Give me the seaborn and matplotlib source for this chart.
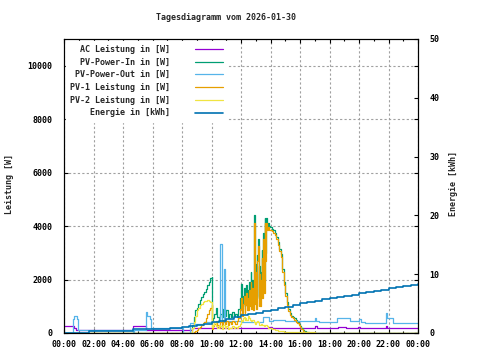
import matplotlib
matplotlib.use('Agg')
import matplotlib.pyplot as plt
import seaborn as sns

# hours of the day
ac_t = [0.0, 0.67, 0.8, 4.7, 5.55, 8.7, 10.4, 10.6, 12.0, 13.9, 14.1, 17.05, 17.15, 18.6, 19.1, 19.95, 20.05, 21.8, 21.9, 24.0]
ac_w = [250, 175, 110, 250, 110, 200, 240, 200, 190, 230, 180, 260, 175, 210, 175, 230, 175, 250, 175, 175]

out_t = [0.0, 0.6, 0.7, 0.85, 0.95, 4.7, 4.75, 5.55, 5.65, 5.8,
         5.9, 8.1, 8.55, 8.8, 9.5, 10.0, 10.3, 10.55, 10.7, 10.85,
         10.92, 11.0, 12.0, 13.5, 13.9, 14.2, 15.0, 16.0, 17.0, 17.1,
         17.3, 18.5, 19.4, 20.0, 20.15, 20.4, 21.8, 21.9, 22.3, 24.0]
out_w = [0, 520, 630, 520, 110, 0, 110, 780, 620, 520,
         175, 0, 370, 350, 400, 420, 400, 3330, 420, 2400,
         420, 450, 430, 600, 450, 470, 450, 440, 550, 450,
         400, 570, 450, 530, 420, 380, 740, 550, 380, 360]

pv_t = [0.0, 8.6, 8.7, 8.8, 8.9, 9.0, 9.1, 9.2, 9.3, 9.4,
        9.5, 9.6, 9.7, 9.8, 9.9, 10.0, 10.05, 10.1, 10.2, 10.3,
        10.4, 10.5, 10.6, 10.7, 10.8, 10.9, 11.0, 11.1, 11.2, 11.3,
        11.4, 11.5, 11.6, 11.7, 11.8, 11.9,
        12.0, 12.05, 12.1, 12.15, 12.2, 12.25, 12.3, 12.35, 12.4, 12.45,
        12.5, 12.55, 12.6, 12.65, 12.7, 12.75, 12.8, 12.85, 12.9, 12.95,
        13.0, 13.05, 13.1, 13.15, 13.2, 13.25, 13.3, 13.35, 13.4, 13.45,
        13.5, 13.55, 13.6, 13.65, 13.7, 13.75, 13.8, 13.85, 13.9, 13.95,
        14.0, 14.1, 14.2, 14.3, 14.4, 14.5, 14.6, 14.7, 14.8, 14.9,
        15.0, 15.1, 15.2, 15.3, 15.4, 15.5, 15.6, 15.7, 15.8, 15.9,
        16.0, 16.1, 16.2, 16.3, 16.4, 16.5, 16.6, 16.7, 17.0, 24.0]
pv_in = [0, 0, 300, 600, 850, 950, 1100, 1250, 1350, 1450,
         1550, 1650, 1800, 1900, 2050, 2100, 500, 550, 700, 950,
         600, 500, 700, 600, 900, 650, 850, 550, 700, 600,
         800, 650, 700, 600, 900, 1300,
         1850, 1100, 900, 1400, 1700, 1000, 1300, 1800, 1100, 1600,
         1100, 1900, 1300, 2300, 1200, 2000, 1100, 3500, 4400, 1500,
         2600, 1400, 2900, 3500, 1300, 2500, 1400, 2300, 3100, 1700,
         3750, 2000, 4300, 3000, 4300, 4000, 4050, 4100, 4000, 3950,
         3950, 3900, 3850, 3750, 3600, 3400, 3150, 2950, 2400, 1900,
         1500, 1150, 900, 740, 650, 600, 550, 480, 430, 350,
         280, 180, 110, 80, 50, 30, 10, 0, 0, 0]
pv1 = [0, 0, 0, 30, 80, 130, 180, 230, 300, 370,
       430, 550, 700, 850, 950, 1050, 150, 250, 350, 450,
       300, 200, 400, 300, 500, 350, 450, 300, 400, 350,
       450, 400, 350, 450, 550, 900,
       1300, 800, 650, 1100, 1400, 750, 1050, 1500, 850, 1300,
       850, 1600, 1000, 1900, 900, 1700, 850, 3200, 4100, 1100,
       2300, 900, 2700, 3250, 1000, 2200, 1000, 2000, 2800, 1300,
       3500, 1500, 4100, 2700, 4100, 3850, 3900, 3950, 3850, 3850,
       3850, 3800, 3750, 3650, 3500, 3300, 3050, 2850, 2300, 1800,
       1400, 1050, 820, 680, 600, 550, 500, 430, 380, 300,
       230, 140, 80, 50, 30, 15, 0, 0, 0, 0]
pv2 = [0, 0, 200, 400, 650, 850, 950, 1050, 1100, 1150,
       1180, 1200, 1220, 1200, 1160, 1100, 220, 300, 400, 250,
       200, 300, 250, 150, 300, 200, 250, 150, 200, 180,
       250, 200, 220, 200, 250, 350,
       500, 450, 450, 550, 600, 500, 550, 500, 500, 600,
       650, 550, 500, 450, 450, 500, 500, 450, 400, 350,
       350, 400, 450, 400, 350, 300, 300, 350, 350, 300,
       300, 250, 250, 300, 300, 250, 250, 200, 200, 200,
       200, 150, 150, 120, 100, 80, 70, 60, 60, 50,
       50, 50, 50, 50, 50, 50, 50, 50, 50, 50,
       50, 50, 50, 50, 50, 50, 50, 50, 0, 0]

en_t = [0.0, 1.7, 4.7, 7.2, 8.0, 8.5, 9.0, 9.5, 10.0, 10.5, 11.0, 11.5, 12.0, 12.5,
        13.0, 13.5, 14.0, 14.5, 15.0, 15.5, 16.0, 16.5, 17.0, 17.5, 18.0, 18.5, 19.0,
        19.5, 20.0, 20.5, 21.0, 21.5, 22.0, 22.5, 23.0, 23.5, 24.0]
en_kwh = [0.05, 0.3, 0.6, 0.9, 1.0, 1.15, 1.3, 1.55, 1.85, 2.1, 2.4, 2.7, 3.0, 3.2,
          3.45, 3.7, 3.9, 4.2, 4.45, 4.75, 5.1, 5.3, 5.5, 5.7, 5.9, 6.1, 6.3,
          6.5, 6.75, 6.95, 7.15, 7.35, 7.6, 7.8, 7.95, 8.15, 8.35]

labels = ['AC Leistung in [W]', 'PV-Power-In in [W]', 'PV-Power-Out in [W]',
          'PV-1 Leistung in [W]', 'PV-2 Leistung in [W]', 'Energie in [kWh]']
colors = ['#9400D3', '#009E73', '#56B4E9', '#E69F00', '#F0E442', '#0072B2']
hour_labels = ['00:00', '02:00', '04:00', '06:00', '08:00', '10:00', '12:00',
               '14:00', '16:00', '18:00', '20:00', '22:00', '00:00']

sns.set_style('ticks')
plt.rcParams['font.family'] = ['DejaVu Sans Mono']
plt.rcParams['font.size'] = 6
plt.rcParams['font.weight'] = 'bold'

fig = plt.figure(figsize=(4.8, 3.6), dpi=100)
ax = fig.add_axes([64 / 480, 1 - 333 / 360, 354 / 480, 294 / 360])
ax2 = ax.twinx()

series = [(ac_t, ac_w), (pv_t, pv_in), (out_t, out_w), (pv_t, pv1), (pv_t, pv2)]
for (t, v), c in zip(series, colors[:5]):
    sns.lineplot(x=t, y=v, ax=ax, color=c, lw=0.9, drawstyle='steps-post',
                 errorbar=None, legend=False)
sns.lineplot(x=en_t, y=en_kwh, ax=ax2, color=colors[5], lw=1.2,
             drawstyle='steps-post', errorbar=None, legend=False)

ax.set_xlim(0, 24)
ax.set_ylim(0, 11000)
ax2.set_ylim(0, 50)
ax.set_xticks(range(0, 25, 2))
ax.set_xticks(range(0, 25, 1), minor=True)
ax.set_xticklabels(hour_labels)
ax.set_yticks(range(0, 11000, 2000))
ax2.set_yticks(range(0, 51, 10))
ax.set_xlabel('')
ax.set_ylabel('')
ax2.set_ylabel('')

ax.grid(True, which='major', color='#a0a0a0', ls=(0, (2, 2)), lw=0.8)
ax.tick_params(which='major', direction='in', length=3, width=0.8, color='black',
               top=True, right=True, labelsize=6, labelcolor='black')
ax.tick_params(axis='x', which='minor', direction='in', length=1.5, width=0.8,
               color='black', top=True)
ax.tick_params(axis='y', pad=8.5)
ax.tick_params(axis='x', pad=5)
ax2.tick_params(direction='in', length=3, width=0.8, color='black', labelsize=6,
                labelcolor='black', pad=8)
for a in (ax, ax2):
    for s in a.spines.values():
        s.set_color('black')
        s.set_linewidth(0.8)

handles = ax.get_lines()[:5] + ax2.get_lines()[:1]
ax2.legend(handles, labels, loc='upper left',
           bbox_to_anchor=(1.5 / 354, 1 - 1.5 / 294), borderaxespad=0,
           markerfirst=False, frameon=True, fancybox=False, framealpha=1,
           edgecolor='white', fontsize=6, handlelength=3.4, handletextpad=3.0,
           labelspacing=0.45, borderpad=0.5)

fig.text(226.5 / 480, 1 - 18 / 360, 'Tagesdiagramm vom 2026-01-30',
         ha='center', va='center', fontsize=6)
fig.text(10 / 480, 0.5 - 4 / 360, 'Leistung [W]', rotation=90,
         ha='center', va='center', fontsize=6)
fig.text(453 / 480, 0.5 - 4 / 360, 'Energie [kWh]', rotation=90,
         ha='center', va='center', fontsize=6)

fig.savefig('out.png', dpi=100, facecolor='white')
